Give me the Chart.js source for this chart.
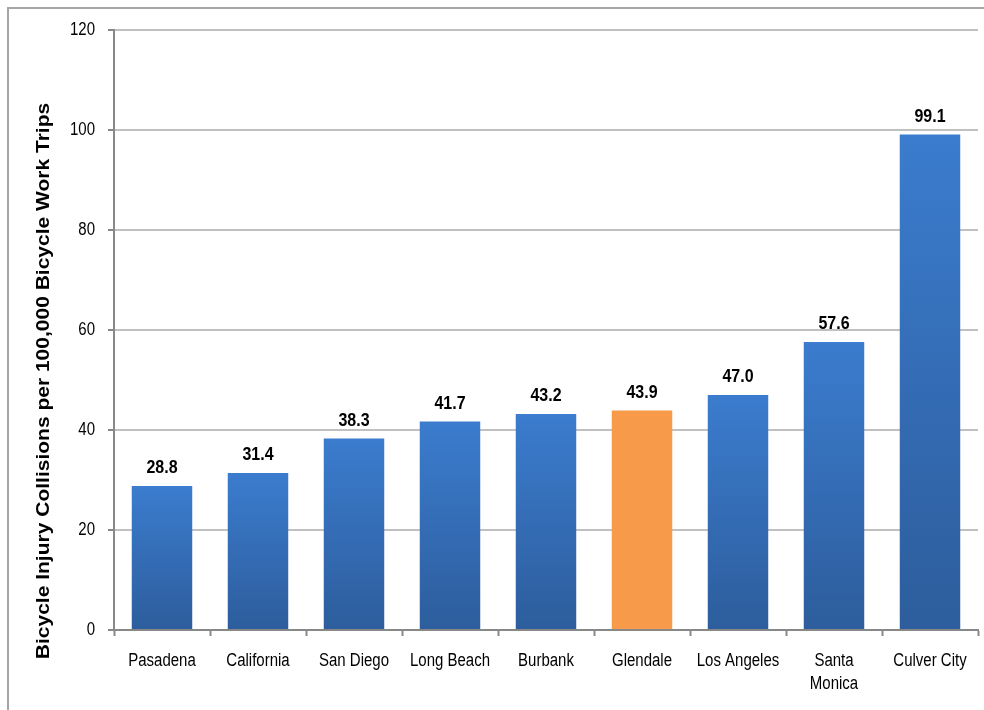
<!DOCTYPE html>
<html>
<head>
<meta charset="utf-8">
<script src="https://cdn.jsdelivr.net/npm/chart.js@4"></script>
<style>
  html, body { margin: 0; padding: 0; background: #fff; }
  #wrap { position: relative; width: 984px; height: 710px; overflow: hidden; }
  #frame { position: absolute; left: 7px; top: 7px; width: 1000px; height: 800px; border: 2px solid #a6a6a6; }
  canvas { position: absolute; left: 0; top: 0; }
</style>
</head>
<body>
<div id="wrap">
  <div id="frame"></div>
  <canvas id="theChart" width="984" height="710"></canvas>
</div>
<script>
const cities = ["Pasadena", "California", "San Diego", "Long Beach", "Burbank", "Glendale", "Los Angeles", ["Santa", "Monica"], "Culver City"]
const collisionRates = [28.8, 31.4, 38.3, 41.7, 43.2, 43.9, 47.0, 57.6, 99.1]
const highlightCity = "Glendale"
const yTicks = [0, 20, 40, 60, 80, 100, 120]
const yTitle = "Bicycle Injury Collisions per 100,000 Bicycle Work Trips"

const fontFamily = "'Liberation Sans', Arial, sans-serif"
// the source picture is stretched vertically, so text is drawn taller than wide
const stretch = 1.2

function stretchedText(ctx, text, x, y, font, align, baseline) {
  ctx.save()
  ctx.font = font
  ctx.fillStyle = "#000"
  ctx.textAlign = align
  ctx.textBaseline = baseline
  ctx.translate(x, y)
  ctx.scale(1, stretch)
  ctx.fillText(text, 0, 0)
  ctx.restore()
}

// blue bars fade from light at the top to dark at the base
function barColor(context) {
  let chart = context.chart
  if (cities[context.dataIndex] === highlightCity) return "#f79a4a"
  if (!chart.chartArea) return "#3570bb"
  let yScale = chart.scales.y
  let top = yScale.getPixelForValue(context.raw)
  let bottom = yScale.getPixelForValue(0)
  let g = chart.ctx.createLinearGradient(0, top, 0, bottom)
  g.addColorStop(0, "#3b7cce")
  g.addColorStop(1, "#2d5d9c")
  return g
}

const textLayer = {
  id: "textLayer",
  afterDraw(chart) {
    let ctx = chart.ctx
    let x = chart.scales.x
    let y = chart.scales.y

    // y tick labels
    yTicks.forEach(v => {
      stretchedText(ctx, String(v), 95, y.getPixelForValue(v), "15px " + fontFamily, "right", "middle")
    })

    // category labels
    cities.forEach((c, i) => {
      let lines = Array.isArray(c) ? c : [c]
      let cx = x.getPixelForValue(i)
      lines.forEach((line, j) => {
        stretchedText(ctx, line, cx, 661 + j * 23, "15px " + fontFamily, "center", "middle")
      })
    })

    // values above the bars
    chart.getDatasetMeta(0).data.forEach((bar, i) => {
      stretchedText(ctx, collisionRates[i].toFixed(1), bar.x, bar.y - 13, "bold 16px " + fontFamily, "center", "alphabetic")
    })

    // axis title, rotated
    ctx.save()
    ctx.translate(44, 381)
    ctx.rotate(-Math.PI / 2)
    ctx.scale(stretch, 1)
    ctx.font = "bold 17.5px " + fontFamily
    ctx.fillStyle = "#000"
    ctx.textAlign = "center"
    ctx.textBaseline = "middle"
    ctx.fillText(yTitle, 0, 0)
    ctx.restore()
  }
}

let chart = new Chart(document.getElementById("theChart").getContext("2d"), {
  type: "bar",
  data: {
    labels: cities,
    datasets: [{
      data: collisionRates,
      backgroundColor: barColor,
      borderWidth: 0,
      categoryPercentage: 1,
      barPercentage: 0.63
    }]
  },
  options: {
    responsive: false,
    animation: false,
    layout: { padding: { left: 8, top: 30, right: 6, bottom: 0 } },
    plugins: { legend: { display: false }, tooltip: { enabled: false } },
    scales: {
      x: {
        offset: true,
        grid: { offset: true, drawOnChartArea: false, tickLength: 6, tickColor: "#888", tickWidth: 2 },
        border: { color: "#888", width: 2 },
        ticks: { color: "rgba(0,0,0,0)", font: { size: 15 }, maxRotation: 0, autoSkip: false },
        afterFit(scale) { scale.height = 80 }
      },
      y: {
        min: 0,
        max: 120,
        afterBuildTicks(scale) { scale.ticks = yTicks.map(v => ({ value: v })) },
        grid: { color: "#c0c0c0", lineWidth: 2, tickLength: 6, tickColor: "#888", tickWidth: 2 },
        border: { color: "#888", width: 2 },
        ticks: { color: "rgba(0,0,0,0)", font: { size: 15 } },
        afterFit(scale) { scale.width = 106 }
      }
    }
  },
  plugins: [textLayer]
})
</script>
</body>
</html>
